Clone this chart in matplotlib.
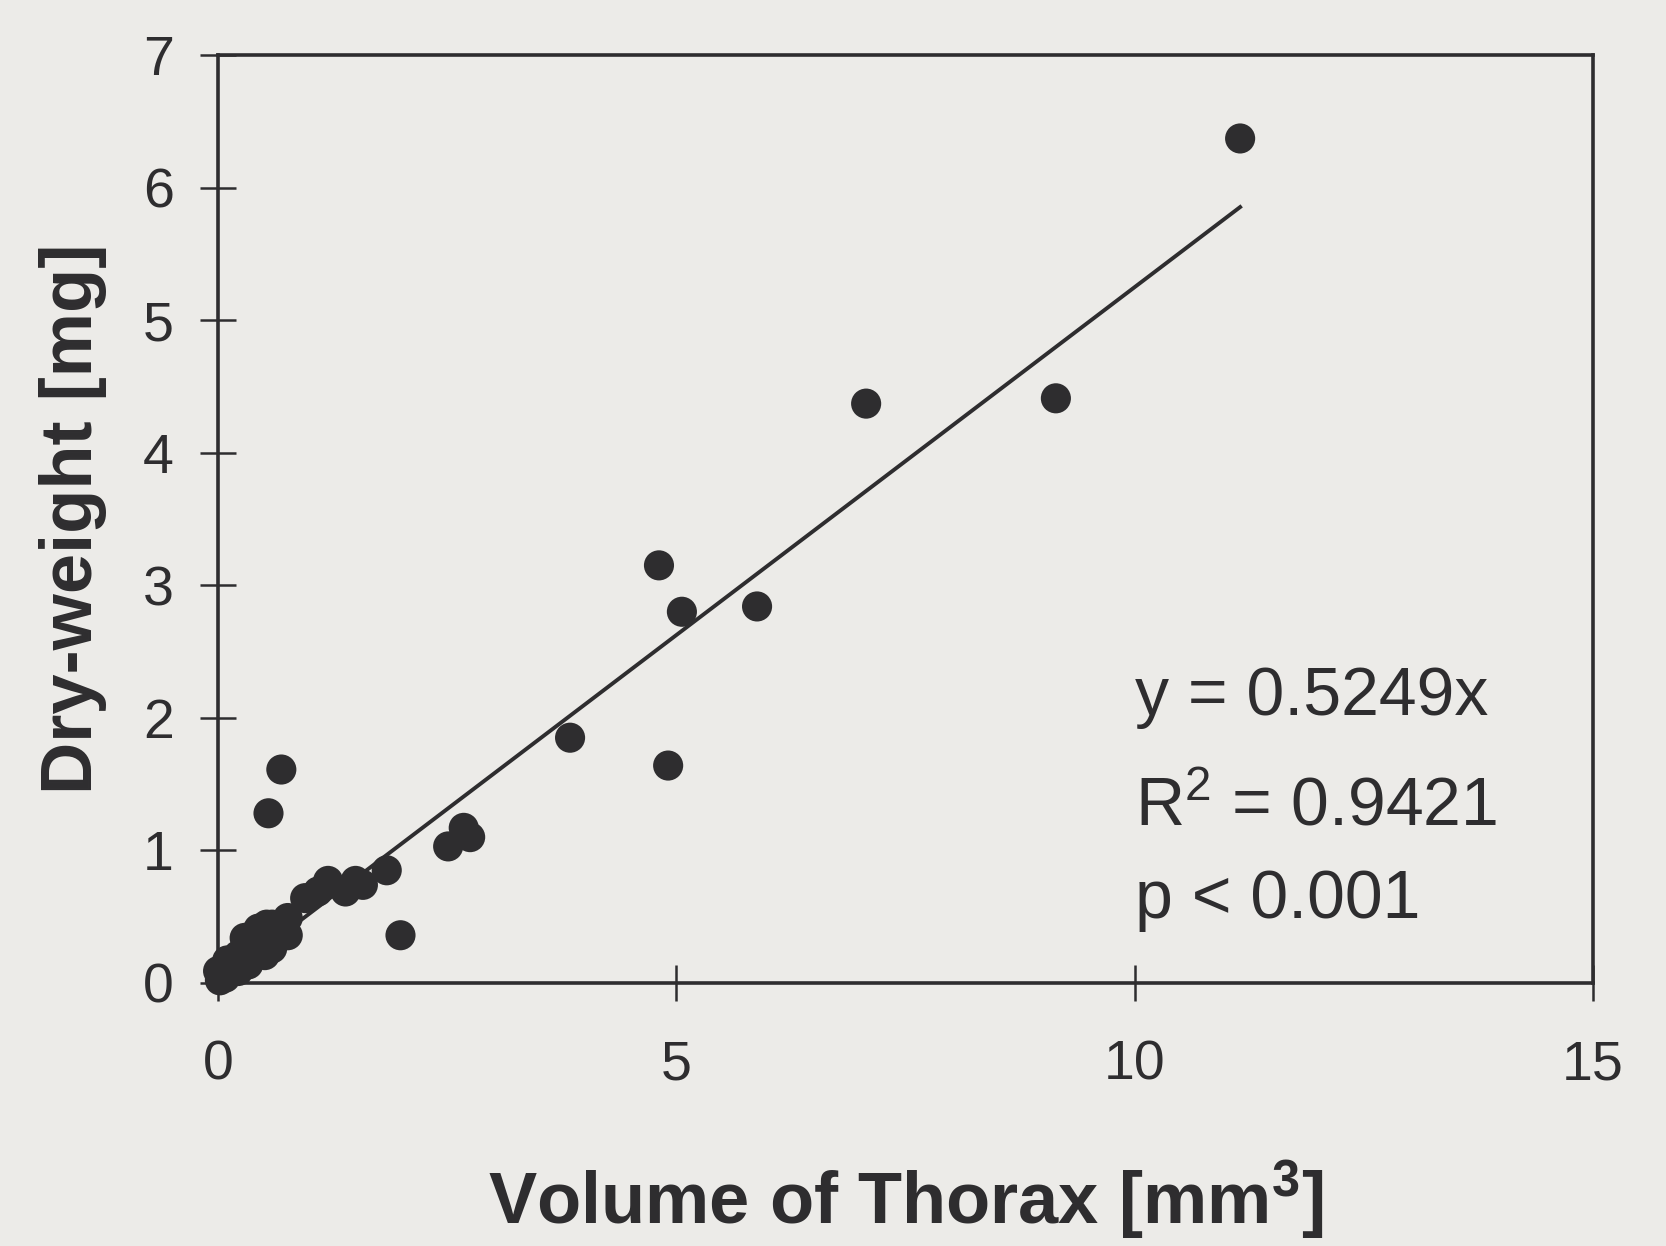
import matplotlib
matplotlib.use("Agg")
import matplotlib.pyplot as plt

# thorax volume [mm^3] vs dry weight [mg]
volume = [0.00, 0.02, 0.08, 0.10, 0.22, 0.22, 0.29, 0.33, 0.38, 0.44,
          0.51, 0.53, 0.59, 0.59, 0.76, 0.76, 0.95, 1.09, 1.20, 1.39,
          1.50, 1.58, 1.84, 1.99, 2.51, 2.68, 2.75, 3.84, 4.81, 4.91,
          5.06, 5.88, 7.07, 9.14, 11.15, 0.55, 0.69]
dry_weight = [0.09, 0.02, 0.04, 0.17, 0.09, 0.21, 0.34, 0.14, 0.36, 0.41,
              0.21, 0.44, 0.44, 0.26, 0.49, 0.36, 0.64, 0.69, 0.77, 0.69,
              0.77, 0.74, 0.85, 0.36, 1.03, 1.17, 1.10, 1.85, 3.15, 1.64,
              2.80, 2.84, 4.37, 4.41, 6.37, 1.28, 1.61]

slope = 0.5249
fit_x = [0, 11.15]
x_ticks = [0, 5, 10, 15]
y_ticks = [0, 1, 2, 3, 4, 5, 6, 7]
stats_lines = ["y = 0.5249x", r"R$^2$ = 0.9421", "p < 0.001"]
stats_y = [2.02, 1.19, 0.49]

bg = "#ecebe8"
ink = "#2e2d2f"

plt.rcParams["font.family"] = ["Liberation Sans", "DejaVu Sans"]
plt.rcParams["mathtext.fontset"] = "custom"
plt.rcParams["mathtext.rm"] = "Liberation Sans"
plt.rcParams["mathtext.it"] = "Liberation Sans"
plt.rcParams["mathtext.bf"] = "Liberation Sans:bold"

fig = plt.figure(figsize=(16.66, 12.46), dpi=100, facecolor=bg)
ax = fig.add_axes([0.1309, 0.2111, 0.8253, 0.7448], facecolor=bg)

ax.scatter(volume, dry_weight, s=470, color=ink, edgecolors="none",
           clip_on=False, zorder=3)
ax.plot(fit_x, [slope * v for v in fit_x], color=ink, lw=2.8, zorder=2)

ax.set_xlim(0, 15)
ax.set_ylim(0, 7)
ax.set_xticks(x_ticks)
ax.set_yticks(y_ticks)

for sp in ax.spines.values():
    sp.set_linewidth(2.6)
    sp.set_color(ink)

ax.tick_params(axis="both", direction="inout", length=26, width=1.8,
               colors=ink, labelsize=40)
ax.tick_params(axis="x", pad=28)
ax.tick_params(axis="y", pad=19)

ax.set_xlabel(r"Volume of Thorax [mm$^\mathbf{3}$]", fontsize=52,
              fontweight="bold", color=ink, labelpad=48)
ax.set_ylabel("Dry-weight [mg]", fontsize=52, fontweight="bold",
              color=ink, labelpad=26)

for line, yy in zip(stats_lines, stats_y):
    ax.text(10.0, yy, line, fontsize=49, color=ink, va="baseline",
            ha="left")

fig.savefig("out.png", dpi=100, facecolor=bg)
